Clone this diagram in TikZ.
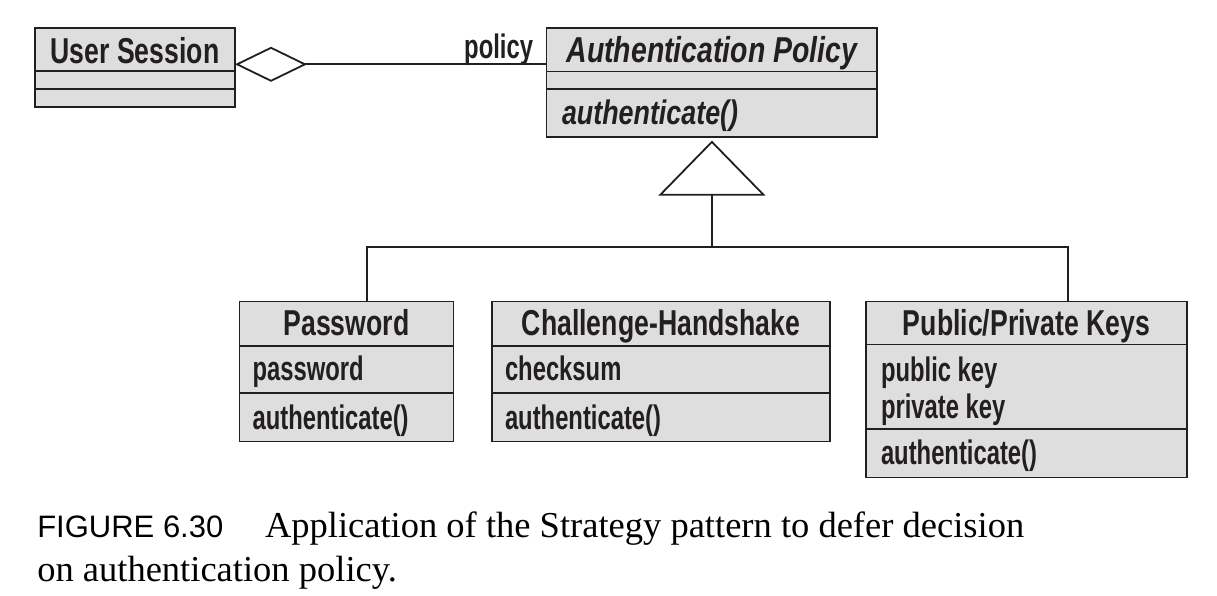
\documentclass[tikz,border=0pt]{standalone}
\usepackage{fontspec}
\usetikzlibrary{arrows.meta}
\setmainfont{Liberation Serif}
\newfontfamily\umltitlefont[FakeStretch=0.74]{Liberation Sans}
\newfontfamily\umlitemfont[FakeStretch=0.7]{Liberation Sans}
\newfontfamily\umlitfont[FakeStretch=0.79]{Liberation Sans}
\newfontfamily\capsans{Liberation Sans}
\definecolor{ink}{RGB}{35,31,32}
\definecolor{boxfill}{RGB}{221,222,221}
\tikzset{
  umlbox/.style={draw=ink, fill=boxfill, line width=1.8pt, inner sep=0pt, outer sep=0pt},
  sepline/.style={draw=ink, line width=1.8pt},
  conn/.style={draw=ink, line width=1.8pt},
  titletxt/.style={inner sep=0pt, outer sep=0pt, text=ink, anchor=base, font=\umltitlefont\bfseries\fontsize{36}{40}\selectfont},
  titleit/.style={inner sep=0pt, outer sep=0pt, text=ink, anchor=base, font=\umlitfont\bfseries\itshape\fontsize{36}{40}\selectfont},
  itemtxt/.style={inner sep=0pt, outer sep=0pt, text=ink, anchor=base west, font=\umlitemfont\bfseries\fontsize{34}{38}\selectfont},
  itemit/.style={inner sep=0pt, outer sep=0pt, text=ink, anchor=base west, font=\umlitfont\bfseries\itshape\fontsize{34}{38}\selectfont},
  captxt/.style={inner sep=0pt, outer sep=0pt, text=black, anchor=base west}
}
\begin{document}
\begin{tikzpicture}[x=1pt,y=-1pt]
\useasboundingbox (0,0) rectangle (1217,595);

% User Session
\node[umlbox, minimum width=200pt, minimum height=79pt] (us) at (135,67.8) {};
\draw[sepline] (35,71) -- (235,71);
\draw[sepline] (35,89.3) -- (235,89.3);
\node[titletxt] (ustitle) at (135,63.3) {User Session};

% Authentication Policy
\node[umlbox, minimum width=330.8pt, minimum height=109pt] (ap) at (711.9,82.8) {};
\draw[sepline] (546.5,71.5) -- (877.3,71.5);
\draw[sepline] (546.5,89.3) -- (877.3,89.3);
\node[titleit] (aptitle) at (711.9,62.5) {Authentication Policy};
\node[itemit] (apm) at (562,124.3) {authenticate()};

% Password
\node[umlbox, minimum width=214pt, minimum height=140pt] (pw) at (346.5,371.5) {};
\draw[sepline] (239.5,346) -- (453.5,346);
\draw[sepline] (239.5,392.7) -- (453.5,392.7);
\node[titletxt] (pwtitle) at (346.5,335.7) {Password};
\node[itemtxt] (pwa) at (252.6,380.5) {password};
\node[itemtxt] (pwm) at (252.6,429.8) {authenticate()};

% Challenge-Handshake
\node[umlbox, minimum width=338pt, minimum height=140pt] (ch) at (661,371.5) {};
\draw[sepline] (492,346) -- (830,346);
\draw[sepline] (492,392.7) -- (830,392.7);
\node[titletxt] (chtitle) at (661,335.7) {Challenge-Handshake};
\node[itemtxt] (cha) at (505,380.5) {checksum};
\node[itemtxt] (chm) at (505,429.8) {authenticate()};

% Public/Private Keys
\node[umlbox, minimum width=321.3pt, minimum height=176pt] (pk) at (1026.6,389.5) {};
\draw[sepline] (866,344.5) -- (1187.3,344.5);
\draw[sepline] (866,429.3) -- (1187.3,429.3);
\node[titletxt] (pktitle) at (1026.6,335.7) {Public/Private Keys};
\node[itemtxt] (pka) at (881,381) {public key};
\node[itemtxt] (pkb) at (881,418.3) {private key};
\node[itemtxt] (pkm) at (881,464.5) {authenticate()};

% aggregation
\coordinate (usport) at ([yshift=3.5pt]us.east);
\draw[conn, {Diamond[open, length=72pt, width=35pt]}-] (usport) -- (usport -| ap.west);
\node[inner sep=0pt, outer sep=0pt, text=ink, anchor=base east, font=\umlitemfont\bfseries\fontsize{34}{38}\selectfont] (policy) at (533,58) {policy};

% generalization
\coordinate (jn) at (711.9,247.3);
\draw[conn] ([xshift=20.5pt]pw.north) |- (jn) -| ([xshift=41.5pt]pk.north);
\draw[conn, -{Triangle[open, length=55pt, width=107pt]}, shorten >=3.3pt] (jn) -- (ap.south);

% caption
\node[captxt, font=\capsans\fontsize{31}{35}\selectfont] (figno) at (37.3,537.3) {FIGURE 6.30};
\node[captxt, font=\fontsize{36.5}{42}\selectfont] (cap1) at (265,537.3) {Application of the Strategy pattern to defer decision};
\node[captxt, font=\fontsize{36.5}{42}\selectfont] (cap2) at (37.3,581.7) {on authentication policy.};
\end{tikzpicture}
\end{document}
